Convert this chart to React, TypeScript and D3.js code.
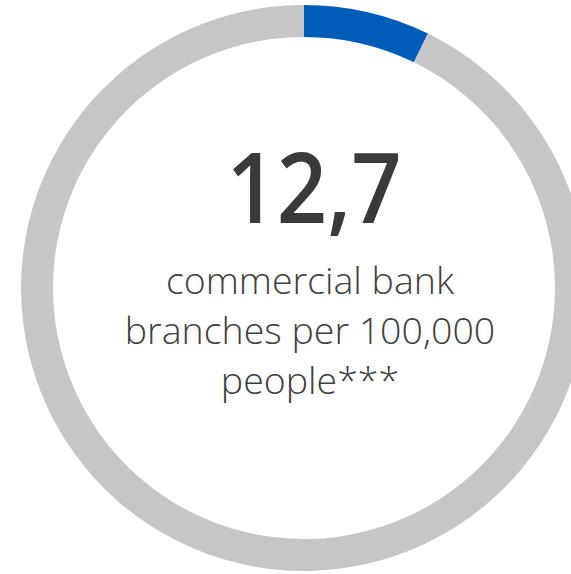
import { useEffect } from "react";
import * as d3 from "d3";

// data
const segments = ["value", "rest"];
const segmentValues = [12.7, 163.3];
const headline = "12,7";
const captionLines = ["commercial bank", "branches per 100,000", "people***"];

const COLORS: Record<string, string> = { value: "#005cb9", rest: "#c6c6c6" };

export default function App() {
  useEffect(() => {
    document.body.style.margin = "0";
  }, []);

  const W = 571;
  const H = 574;
  const cx = 304;
  const cy = 288;
  const outer = 283;
  const inner = 251;

  const pie = d3
    .pie<number>()
    .sort(null)
    .value((d) => d);
  const arcs = pie(segmentValues);
  const arc = d3.arc<d3.PieArcDatum<number>>().innerRadius(inner).outerRadius(outer);

  const font = "'Open Sans', 'Noto Sans', sans-serif";

  return (
    <svg width={W} height={H} style={{ display: "block" }}>
      <g transform={`translate(${cx},${cy})`}>
        {arcs.map((a, i) => (
          <path key={segments[i]} d={arc(a) ?? ""} fill={COLORS[segments[i]]} />
        ))}
      </g>
      <text
        x={314}
        y={223}
        textAnchor="middle"
        fontFamily={font}
        fontWeight={600}
        fontSize={97}
        fill="#3a3a3a"
        textLength={175}
        lengthAdjust="spacingAndGlyphs"
      >
        {headline}
      </text>
      {captionLines.map((line, i) => (
        <text
          key={line}
          x={310}
          y={294 + i * 50}
          textAnchor="middle"
          fontFamily={font}
          fontWeight={300}
          fontSize={37.5}
          fill="#404040"
        >
          {line}
        </text>
      ))}
    </svg>
  );
}
